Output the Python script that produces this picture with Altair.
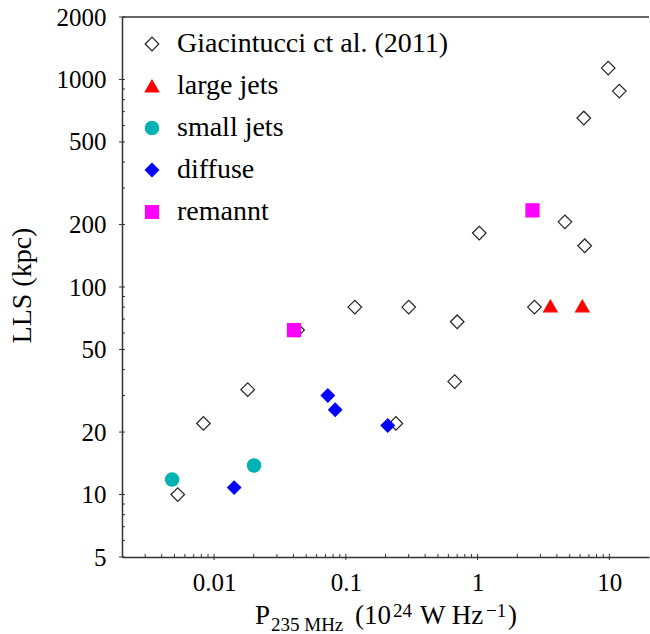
import altair as alt
import pandas as pd

# --- data -----------------------------------------------------------------
groups = ["Giacintucci ct al. (2011)", "large jets", "small jets", "diffuse", "remannt"]

giac_p = [0.0053, 0.0083, 0.018, 0.043, 0.117, 0.30, 0.70, 0.67, 0.24, 1.03,
          2.7, 4.6, 6.5, 6.4, 9.8, 11.9]
giac_lls = [10, 22, 32, 62, 80, 80, 68, 35, 22, 182, 80, 206, 158, 652, 1135, 879]

large_p = [3.57, 6.24]
large_lls = [81, 81]

small_p = [0.0048, 0.0201]
small_lls = [11.8, 13.8]

diffuse_p = [0.073, 0.083, 0.208, 0.0142]
diffuse_lls = [30, 25.6, 21.5, 10.8]

remnant_p = [0.0404, 2.61]
remnant_lls = [62, 234]

x_major = [0.01, 0.1, 1, 10]
x_minor = [0.003, 0.004, 0.005, 0.006, 0.007, 0.008, 0.009,
           0.02, 0.03, 0.04, 0.05, 0.06, 0.07, 0.08, 0.09,
           0.2, 0.3, 0.4, 0.5, 0.6, 0.7, 0.8, 0.9,
           2, 3, 4, 5, 6, 7, 8, 9]
y_major = [5, 10, 20, 50, 100, 200, 500, 1000, 2000]
y_minor = [6, 7, 8, 9, 30, 40, 60, 70, 80, 90, 300, 400, 600, 700, 800, 900]

series = [
    (groups[0], giac_p, giac_lls),
    (groups[1], large_p, large_lls),
    (groups[2], small_p, small_lls),
    (groups[3], diffuse_p, diffuse_lls),
    (groups[4], remnant_p, remnant_lls),
]
df = pd.DataFrame(
    [{"x": p, "y": l, "group": g} for g, ps, ls in series for p, l in zip(ps, ls)]
)

# --- styling --------------------------------------------------------------
FONT = "Liberation Serif"
AX = "#333333"
W, H = 527, 540

shapes = ["diamond", "triangle-up", "circle", "diamond", "square"]
fills = ["white", "#ff0000", "#00b2b2", "#0000ff", "#ff00ff"]
strokes = ["#222222", "#ff0000", "#00b2b2", "#0000ff", "#ff00ff"]
sizes = [185, 170, 160, 190, 125]

xscale = alt.Scale(type="log", domain=[0.002, 20], nice=False)
yscale = alt.Scale(type="log", domain=[5, 2000], nice=False)

xaxis = alt.Axis(values=x_major, format="~g", title=None, grid=False, ticks=False,
                 tickSize=0, labelPadding=13, labelFont=FONT, labelFontSize=25,
                 labelColor="black", domainColor=AX, domainWidth=1.5,
                 labelFlush=False, labelOverlap=False)
yaxis = alt.Axis(values=y_major, format="~g", title="LLS (kpc)", grid=False,
                 ticks=False, tickSize=0, labelPadding=16, labelFont=FONT,
                 labelFontSize=25, labelColor="black", domainColor=AX,
                 domainWidth=1.5, labelFlush=False, labelOverlap=False,
                 titleFont=FONT, titleFontSize=28, titleFontWeight="normal",
                 titleColor="black", titleX=-86, titleY=268, titleAngle=270,
                 titleBaseline="bottom", titleAlign="center")

X = alt.X("x:Q", scale=xscale, axis=xaxis)
Y = alt.Y("y:Q", scale=yscale, axis=yaxis)

leg = alt.Legend(title=None, orient="none", legendX=16, legendY=13, padding=0,
                 labelFont=FONT, labelFontSize=28, labelColor="black",
                 rowPadding=14, labelOffset=11, symbolStrokeWidth=1.2,
                 labelLimit=500)

points = alt.Chart(df).mark_point(filled=True, opacity=1, fillOpacity=1,
                                  strokeWidth=1.2).encode(
    x=X,
    y=Y,
    shape=alt.Shape("group:N", scale=alt.Scale(domain=groups, range=shapes), legend=leg),
    fill=alt.Fill("group:N", scale=alt.Scale(domain=groups, range=fills), legend=leg),
    stroke=alt.Stroke("group:N", scale=alt.Scale(domain=groups, range=strokes), legend=leg),
    size=alt.Size("group:N", scale=alt.Scale(domain=groups, range=sizes), legend=leg),
)

# tick marks: major ticks cross the axis, minor ticks sit inside the frame
xt_major = alt.Chart(pd.DataFrame({"x": x_major})).mark_rule(color=AX, strokeWidth=1).encode(
    x=X, y=alt.value(H - 3), y2=alt.value(H + 3))
xt_minor = alt.Chart(pd.DataFrame({"x": x_minor})).mark_rule(color=AX, strokeWidth=1).encode(
    x=X, y=alt.value(H - 3), y2=alt.value(H))
yt_major = alt.Chart(pd.DataFrame({"y": y_major})).mark_rule(color=AX, strokeWidth=1).encode(
    y=Y, x=alt.value(-3), x2=alt.value(3))
yt_minor = alt.Chart(pd.DataFrame({"y": y_minor})).mark_rule(color=AX, strokeWidth=1).encode(
    y=Y, x=alt.value(0), x2=alt.value(3))

# top frame line
top_line = alt.Chart(alt.Data(values=[{}])).mark_rule(color=AX, strokeWidth=1.5).encode(
    x=alt.value(0), x2=alt.value(W), y=alt.value(0))


def piece(text, x, y, size):
    return alt.Chart(alt.Data(values=[{}])).mark_text(
        text=text, font=FONT, fontSize=size, align="left", baseline="alphabetic",
        color="black").encode(x=alt.value(x), y=alt.value(y))


# x-axis title with sub- and superscripts
title_parts = [
    piece("P", 133, 607, 27),
    piece("235 MHz", 149, 614, 19),
    piece("(10", 233, 607, 27),
    piece("24", 271, 600, 19),
    piece("W Hz", 298, 607, 27),
    piece("\u22121", 364, 600, 19),
    piece(")", 386, 607, 27),
]

chart = alt.layer(
    top_line, xt_major, xt_minor, yt_major, yt_minor, points, *title_parts
).properties(
    width=W, height=H,
    padding={"left": 122, "top": 17, "right": 1, "bottom": 77},
    autosize=alt.AutoSizeParams(type="none"),
).configure(
    font=FONT
).configure_axis(
    labelFont=FONT, titleFont=FONT
).configure_legend(
    labelFont=FONT
).configure_view(stroke=None)

chart.save("out.html", embed_options={"renderer": "svg", "actions": False})
